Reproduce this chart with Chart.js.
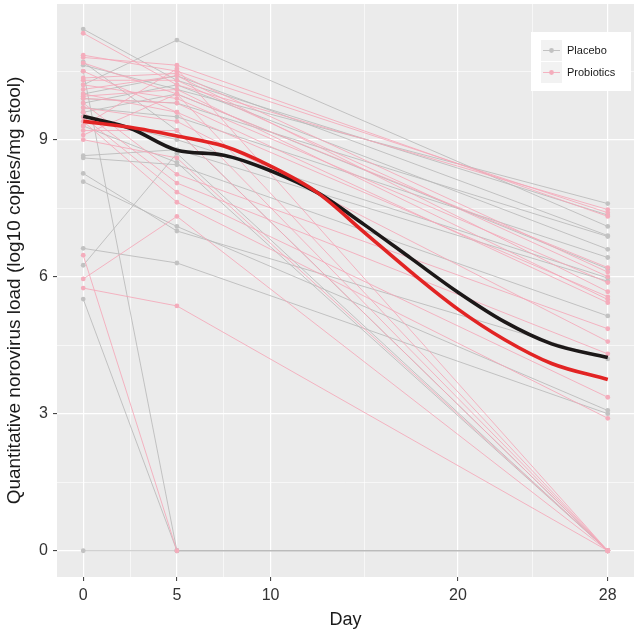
<!DOCTYPE html>
<html lang="en">
<head>
  <meta charset="UTF-8">
  <title>Norovirus load over time</title>
  <script src="https://cdn.jsdelivr.net/npm/chart.js"></script>
  <style>
    body { margin: 0; background: #fff; }
    .chart-container { position: relative; width: 638px; height: 632px; }
  </style>
</head>
<body>
  <div class="chart-container">
    <canvas id="loadChart"></canvas>
  </div>

  <script>
    // sampling days for every subject
    const days = [0, 5, 28];

    // placebo subjects (log10 copies/mg stool) at day 0, 5, 28
    const placeboDay0  = [11.42, 10.63, 10.5, 10.2, 10.0, 9.9, 9.8, 9.7, 9.6, 9.5, 8.65, 8.6, 8.26, 8.08, 6.62, 6.25, 5.51, 0, 10.7, 9.3];
    const placeboDay5  = [10.3, 10.1, 0, 11.18, 10.4, 9.8, 10.2, 9.5, 10.0, 9.0, 8.78, 8.45, 7.0, 7.1, 6.3, 8.7, 0, 0, 9.2, 8.5];
    const placeboDay28 = [7.35, 7.6, 0, 7.1, 6.9, 6.88, 6.6, 6.42, 6.17, 5.97, 5.9, 5.14, 4.2, 3.07, 3.0, 0, 0, 0, 0, 0];

    // probiotics subjects at day 0, 5, 28 (null = not sampled)
    const probioticsDay0  = [11.33, 10.85, 10.8, 10.68, 10.35, 10.3, 10.2, 10.1, 10.0, 9.95, 9.9, 9.8, 9.7, 9.6, 9.5, 9.4, 6.47, 5.95, 5.75, 9.3, 9.2, 9.1, 9.0, 10.5];
    const probioticsDay5  = [10.2, 10.5, 10.63, 10.0, 10.45, 10.3, 9.9, 10.4, 9.6, 10.1, 9.8, 8.24, 9.4, 8.05, 7.85, 7.63, 0, 7.32, 5.36, 10.55, 9.2, 10.0, 8.6, 9.6];
    const probioticsDay28 = [7.47, 7.4, 7.32, 6.2, 6.1, 6.0, 5.87, 5.67, 5.56, 5.5, 5.43, 4.86, 4.58, 4.31, 3.36, 2.9, null, 0, 0, 0, 0, 0, 0, 0];

    // smoothed group trends
    const trendDays       = [0, 2.5, 5, 7.5, 10, 12.5, 15, 17.5, 20, 22.5, 25, 28];
    const placeboTrend    = [9.51, 9.25, 8.77, 8.66, 8.32, 7.84, 7.14, 6.40, 5.66, 5.01, 4.53, 4.23];
    const probioticsTrend = [9.40, 9.27, 9.08, 8.86, 8.42, 7.84, 6.97, 6.10, 5.29, 4.62, 4.10, 3.75];

    const groupNames = ["Placebo", "Probiotics"];

    // axis ticks (major labelled, minor only gridlines)
    const xTicks = [0, 5, 10, 20, 28];
    const xMinor = [2.5, 7.5, 15, 24];
    const yTicks = [0, 3, 6, 9];
    const yMinor = [1.5, 4.5, 7.5, 10.5];

    const GREY_LINE = "rgba(186,186,186,0.85)";
    const GREY_DOT = "#c2c2c2";
    const PINK_LINE = "rgba(244,168,184,0.85)";
    const PINK_DOT = "#f4adbc";

    function subjectSets(d0, d5, d28, line, dot, order) {
      return d0.map((v, i) => ({
        data: [v, d5[i], d28[i]].map((y, j) => ({ x: days[j], y: y })),
        borderColor: line,
        backgroundColor: dot,
        borderWidth: 1,
        pointRadius: 2.4,
        pointBorderWidth: 0,
        tension: 0,
        order: order
      }));
    }

    function trendSet(values, color, order) {
      return {
        data: values.map((y, i) => ({ x: trendDays[i], y: y })),
        borderColor: color,
        borderWidth: 3.6,
        pointRadius: 0,
        cubicInterpolationMode: "monotone",
        order: order
      };
    }

    const datasets = [
      ...subjectSets(placeboDay0, placeboDay5, placeboDay28, GREY_LINE, GREY_DOT, 3),
      ...subjectSets(probioticsDay0, probioticsDay5, probioticsDay28, PINK_LINE, PINK_DOT, 2),
      trendSet(placeboTrend, "#1c1818", 1),
      trendSet(probioticsTrend, "#e22424", 0)
    ];

    // grey panel behind the plot
    const panelBg = {
      id: "panelBg",
      beforeDraw(chart) {
        const a = chart.chartArea, c = chart.ctx;
        c.save();
        c.fillStyle = "#ebebeb";
        c.fillRect(a.left, a.top, a.right - a.left, a.bottom - a.top);
        c.restore();
      }
    };

    // ggplot style legend inside the panel
    const legendBox = {
      id: "legendBox",
      afterDraw(chart) {
        const c = chart.ctx;
        const colors = [[GREY_LINE, GREY_DOT], [PINK_LINE, PINK_DOT]];
        c.save();
        c.fillStyle = "#fff";
        c.fillRect(531, 32, 100, 59);
        groupNames.forEach((name, i) => {
          const top = 40 + i * 22;
          c.fillStyle = "#f2f2f2";
          c.fillRect(541, top, 21, 21);
          c.strokeStyle = colors[i][0];
          c.lineWidth = 1;
          c.beginPath();
          c.moveTo(543, top + 10.5);
          c.lineTo(560, top + 10.5);
          c.stroke();
          c.fillStyle = colors[i][1];
          c.beginPath();
          c.arc(551.5, top + 10.5, 2.4, 0, Math.PI * 2);
          c.fill();
          c.fillStyle = "#1a1a1a";
          c.font = "11px 'Liberation Sans', Arial, sans-serif";
          c.textBaseline = "middle";
          c.fillText(name, 567, top + 11);
        });
        c.restore();
      }
    };

    const tickFont = { family: "'Liberation Sans', Arial, sans-serif", size: 16 };
    const titleFont = { family: "'Liberation Sans', Arial, sans-serif", size: 18 };

    new Chart(document.getElementById("loadChart"), {
      type: "line",
      data: { datasets: datasets },
      plugins: [panelBg, legendBox],
      options: {
        responsive: true,
        maintainAspectRatio: false,
        animation: false,
        layout: { padding: 0 },
        plugins: { legend: { display: false }, tooltip: { enabled: false } },
        scales: {
          x: {
            type: "linear",
            min: -1.4,
            max: 29.4,
            afterBuildTicks: s => { s.ticks = [...xTicks, ...xMinor].sort((a, b) => a - b).map(v => ({ value: v })); },
            afterFit: s => { s.height = 55; s.paddingLeft = 0; s.paddingRight = 0; },
            ticks: {
              autoSkip: false, maxRotation: 0, padding: 5,
              color: "#333", font: tickFont,
              callback: v => xTicks.includes(v) ? String(v) : ""
            },
            grid: {
              color: "#fff",
              lineWidth: c => xTicks.includes(c.tick.value) ? 1.2 : 0.6,
              tickLength: 4,
              tickColor: c => xTicks.includes(c.tick.value) ? "#333" : "rgba(0,0,0,0)",
              tickWidth: 1
            },
            border: { display: false },
            title: { display: true, text: "Day", color: "#1a1a1a", font: titleFont, padding: { top: 0, bottom: 1 } }
          },
          y: {
            type: "linear",
            min: -0.575,
            max: 11.97,
            afterBuildTicks: s => { s.ticks = [...yTicks, ...yMinor].sort((a, b) => a - b).map(v => ({ value: v })); },
            afterFit: s => { s.width = 57; s.paddingTop = 0; s.paddingBottom = 0; },
            ticks: {
              autoSkip: false, padding: 5,
              color: "#333", font: tickFont,
              callback: v => yTicks.includes(v) ? String(v) : ""
            },
            grid: {
              color: "#fff",
              lineWidth: c => yTicks.includes(c.tick.value) ? 1.2 : 0.6,
              tickLength: 4,
              tickColor: c => yTicks.includes(c.tick.value) ? "#333" : "rgba(0,0,0,0)",
              tickWidth: 1
            },
            border: { display: false },
            title: {
              display: true, text: "Quantitative norovirus load (log10 copies/mg stool)",
              color: "#1a1a1a", font: { family: "'Liberation Sans', Arial, sans-serif", size: 19 },
              padding: { top: 3, bottom: 0 }
            }
          }
        }
      }
    });
  </script>
</body>
</html>
